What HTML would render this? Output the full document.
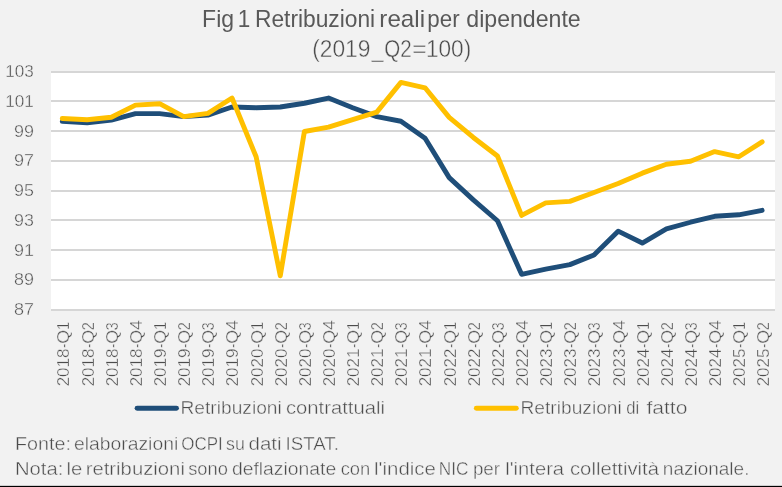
<!DOCTYPE html>
<html><head><meta charset="utf-8"><title>Fig 1</title>
<style>
html,body{margin:0;padding:0;background:#f2f2f2;}
svg{display:block;font-family:"Liberation Sans",sans-serif;will-change:transform;}
</style></head><body>
<svg width="782" height="487" viewBox="0 0 782 487">
<rect x="0" y="0" width="782" height="487" fill="#f2f2f2"/>
<rect x="51.0" y="71" width="724.0" height="240" fill="#ffffff"/>

<rect x="51.0" y="71" width="724.0" height="2" fill="#d6d6d6"/>
<rect x="51.0" y="100" width="724.0" height="2" fill="#d6d6d6"/>
<rect x="51.0" y="130" width="724.0" height="2" fill="#d6d6d6"/>
<rect x="51.0" y="160" width="724.0" height="2" fill="#d6d6d6"/>
<rect x="51.0" y="190" width="724.0" height="2" fill="#d6d6d6"/>
<rect x="51.0" y="219" width="724.0" height="2" fill="#d6d6d6"/>
<rect x="51.0" y="249" width="724.0" height="2" fill="#d6d6d6"/>
<rect x="51.0" y="279" width="724.0" height="2" fill="#d6d6d6"/>
<rect x="51.0" y="309" width="724.0" height="2" fill="#d6d6d6"/>
<text transform="translate(5.32,77.00) scale(0.9940,1)" font-size="17.2" fill="#4c4c4c" stroke="#f2f2f2" stroke-width="0.4">103</text>
<text transform="translate(5.31,106.75) scale(0.9972,1)" font-size="17.2" fill="#4c4c4c" stroke="#f2f2f2" stroke-width="0.4">101</text>
<text transform="translate(13.99,136.50) scale(1.0431,1)" font-size="17.2" fill="#4c4c4c" stroke="#f2f2f2" stroke-width="0.4">99</text>
<text transform="translate(13.99,166.25) scale(1.0482,1)" font-size="17.2" fill="#4c4c4c" stroke="#f2f2f2" stroke-width="0.4">97</text>
<text transform="translate(14.00,196.00) scale(1.0380,1)" font-size="17.2" fill="#4c4c4c" stroke="#f2f2f2" stroke-width="0.4">95</text>
<text transform="translate(14.00,225.75) scale(1.0380,1)" font-size="17.2" fill="#4c4c4c" stroke="#f2f2f2" stroke-width="0.4">93</text>
<text transform="translate(13.99,255.50) scale(1.0431,1)" font-size="17.2" fill="#4c4c4c" stroke="#f2f2f2" stroke-width="0.4">91</text>
<text transform="translate(13.99,285.25) scale(1.0431,1)" font-size="17.2" fill="#4c4c4c" stroke="#f2f2f2" stroke-width="0.4">89</text>
<text transform="translate(13.99,315.00) scale(1.0482,1)" font-size="17.2" fill="#4c4c4c" stroke="#f2f2f2" stroke-width="0.4">87</text>
<path d="M62.27,121.38 L87.20,122.72 L111.33,120.05 L135.47,113.65 L159.60,113.65 L183.73,116.62 L207.87,115.14 L232.00,106.96 L256.13,107.70 L280.27,106.96 L304.40,103.24 L328.53,98.03 L352.67,107.70 L376.80,116.62 L400.93,121.24 L425.07,138.19 L449.20,177.61 L473.33,199.92 L497.47,220.75 L521.60,274.30 L545.73,269.09 L569.87,264.63 L594.00,254.96 L618.13,231.16 L642.27,243.06 L666.40,228.93 L690.53,222.24 L714.67,216.29 L738.80,214.80 L762.13,210.34" fill="none" stroke="#1f4e79" stroke-width="4.9" stroke-linejoin="round" stroke-linecap="round"/>
<path d="M62.27,118.56 L87.20,119.75 L111.33,117.22 L135.47,105.17 L159.60,103.68 L183.73,116.62 L207.87,113.35 L232.00,98.03 L256.13,156.79 L280.27,275.79 L304.40,131.50 L328.53,127.04 L352.67,119.60 L376.80,112.16 L400.93,82.41 L425.07,87.77 L449.20,117.37 L473.33,137.45 L497.47,156.04 L521.60,215.40 L545.73,202.90 L569.87,201.41 L594.00,192.49 L618.13,183.56 L642.27,173.15 L666.40,164.23 L690.53,161.25 L714.67,151.58 L738.80,156.79 L762.13,141.91" fill="none" stroke="#ffc000" stroke-width="4.9" stroke-linejoin="round" stroke-linecap="round"/>
<g transform="translate(69.47,0) rotate(-90)" font-size="17.2" fill="#4c4c4c" stroke="#f2f2f2" stroke-width="0.4"><text transform="translate(-386.35,0) scale(0.9912,1)">2018</text><text transform="translate(-347.83,0) scale(0.6882,1)">-</text><text transform="translate(-343.69,0) scale(1.0270,1)">Q</text><text transform="translate(-329.87,0) scale(0.8287,1)">1</text></g>
<g transform="translate(93.60,0) rotate(-90)" font-size="17.2" fill="#4c4c4c" stroke="#f2f2f2" stroke-width="0.4"><text transform="translate(-386.35,0) scale(0.9912,1)">2018</text><text transform="translate(-347.83,0) scale(0.6882,1)">-</text><text transform="translate(-343.69,0) scale(1.0270,1)">Q</text><text transform="translate(-330.33,0) scale(0.8433,1)">2</text></g>
<g transform="translate(117.73,0) rotate(-90)" font-size="17.2" fill="#4c4c4c" stroke="#f2f2f2" stroke-width="0.4"><text transform="translate(-386.35,0) scale(0.9912,1)">2018</text><text transform="translate(-347.83,0) scale(0.6882,1)">-</text><text transform="translate(-343.69,0) scale(1.0270,1)">Q</text><text transform="translate(-330.32,0) scale(0.8262,1)">3</text></g>
<g transform="translate(141.87,0) rotate(-90)" font-size="17.2" fill="#4c4c4c" stroke="#f2f2f2" stroke-width="0.4"><text transform="translate(-386.35,0) scale(0.9912,1)">2018</text><text transform="translate(-347.83,0) scale(0.6882,1)">-</text><text transform="translate(-343.69,0) scale(1.0270,1)">Q</text><text transform="translate(-330.11,0) scale(1.0419,1)">4</text></g>
<g transform="translate(166.00,0) rotate(-90)" font-size="17.2" fill="#4c4c4c" stroke="#f2f2f2" stroke-width="0.4"><text transform="translate(-386.35,0) scale(0.9912,1)">2019</text><text transform="translate(-347.83,0) scale(0.6882,1)">-</text><text transform="translate(-343.69,0) scale(1.0270,1)">Q</text><text transform="translate(-329.87,0) scale(0.8287,1)">1</text></g>
<g transform="translate(190.13,0) rotate(-90)" font-size="17.2" fill="#4c4c4c" stroke="#f2f2f2" stroke-width="0.4"><text transform="translate(-386.35,0) scale(0.9912,1)">2019</text><text transform="translate(-347.83,0) scale(0.6882,1)">-</text><text transform="translate(-343.69,0) scale(1.0270,1)">Q</text><text transform="translate(-330.33,0) scale(0.8433,1)">2</text></g>
<g transform="translate(214.27,0) rotate(-90)" font-size="17.2" fill="#4c4c4c" stroke="#f2f2f2" stroke-width="0.4"><text transform="translate(-386.35,0) scale(0.9912,1)">2019</text><text transform="translate(-347.83,0) scale(0.6882,1)">-</text><text transform="translate(-343.69,0) scale(1.0270,1)">Q</text><text transform="translate(-330.32,0) scale(0.8262,1)">3</text></g>
<g transform="translate(238.40,0) rotate(-90)" font-size="17.2" fill="#4c4c4c" stroke="#f2f2f2" stroke-width="0.4"><text transform="translate(-386.35,0) scale(0.9912,1)">2019</text><text transform="translate(-347.83,0) scale(0.6882,1)">-</text><text transform="translate(-343.69,0) scale(1.0270,1)">Q</text><text transform="translate(-330.11,0) scale(1.0419,1)">4</text></g>
<g transform="translate(262.53,0) rotate(-90)" font-size="17.2" fill="#4c4c4c" stroke="#f2f2f2" stroke-width="0.4"><text transform="translate(-386.35,0) scale(0.9912,1)">2020</text><text transform="translate(-347.83,0) scale(0.6882,1)">-</text><text transform="translate(-343.69,0) scale(1.0270,1)">Q</text><text transform="translate(-329.87,0) scale(0.8287,1)">1</text></g>
<g transform="translate(286.67,0) rotate(-90)" font-size="17.2" fill="#4c4c4c" stroke="#f2f2f2" stroke-width="0.4"><text transform="translate(-386.35,0) scale(0.9912,1)">2020</text><text transform="translate(-347.83,0) scale(0.6882,1)">-</text><text transform="translate(-343.69,0) scale(1.0270,1)">Q</text><text transform="translate(-330.33,0) scale(0.8433,1)">2</text></g>
<g transform="translate(310.80,0) rotate(-90)" font-size="17.2" fill="#4c4c4c" stroke="#f2f2f2" stroke-width="0.4"><text transform="translate(-386.35,0) scale(0.9912,1)">2020</text><text transform="translate(-347.83,0) scale(0.6882,1)">-</text><text transform="translate(-343.69,0) scale(1.0270,1)">Q</text><text transform="translate(-330.32,0) scale(0.8262,1)">3</text></g>
<g transform="translate(334.93,0) rotate(-90)" font-size="17.2" fill="#4c4c4c" stroke="#f2f2f2" stroke-width="0.4"><text transform="translate(-386.35,0) scale(0.9912,1)">2020</text><text transform="translate(-347.83,0) scale(0.6882,1)">-</text><text transform="translate(-343.69,0) scale(1.0270,1)">Q</text><text transform="translate(-330.11,0) scale(1.0419,1)">4</text></g>
<g transform="translate(359.07,0) rotate(-90)" font-size="17.2" fill="#4c4c4c" stroke="#f2f2f2" stroke-width="0.4"><text transform="translate(-386.35,0) scale(0.9912,1)">2021</text><text transform="translate(-347.83,0) scale(0.6882,1)">-</text><text transform="translate(-343.69,0) scale(1.0270,1)">Q</text><text transform="translate(-329.87,0) scale(0.8287,1)">1</text></g>
<g transform="translate(383.20,0) rotate(-90)" font-size="17.2" fill="#4c4c4c" stroke="#f2f2f2" stroke-width="0.4"><text transform="translate(-386.35,0) scale(0.9912,1)">2021</text><text transform="translate(-347.83,0) scale(0.6882,1)">-</text><text transform="translate(-343.69,0) scale(1.0270,1)">Q</text><text transform="translate(-330.33,0) scale(0.8433,1)">2</text></g>
<g transform="translate(407.33,0) rotate(-90)" font-size="17.2" fill="#4c4c4c" stroke="#f2f2f2" stroke-width="0.4"><text transform="translate(-386.35,0) scale(0.9912,1)">2021</text><text transform="translate(-347.83,0) scale(0.6882,1)">-</text><text transform="translate(-343.69,0) scale(1.0270,1)">Q</text><text transform="translate(-330.32,0) scale(0.8262,1)">3</text></g>
<g transform="translate(431.47,0) rotate(-90)" font-size="17.2" fill="#4c4c4c" stroke="#f2f2f2" stroke-width="0.4"><text transform="translate(-386.35,0) scale(0.9912,1)">2021</text><text transform="translate(-347.83,0) scale(0.6882,1)">-</text><text transform="translate(-343.69,0) scale(1.0270,1)">Q</text><text transform="translate(-330.11,0) scale(1.0419,1)">4</text></g>
<g transform="translate(455.60,0) rotate(-90)" font-size="17.2" fill="#4c4c4c" stroke="#f2f2f2" stroke-width="0.4"><text transform="translate(-386.35,0) scale(0.9912,1)">2022</text><text transform="translate(-347.83,0) scale(0.6882,1)">-</text><text transform="translate(-343.69,0) scale(1.0270,1)">Q</text><text transform="translate(-329.87,0) scale(0.8287,1)">1</text></g>
<g transform="translate(479.73,0) rotate(-90)" font-size="17.2" fill="#4c4c4c" stroke="#f2f2f2" stroke-width="0.4"><text transform="translate(-386.35,0) scale(0.9912,1)">2022</text><text transform="translate(-347.83,0) scale(0.6882,1)">-</text><text transform="translate(-343.69,0) scale(1.0270,1)">Q</text><text transform="translate(-330.33,0) scale(0.8433,1)">2</text></g>
<g transform="translate(503.87,0) rotate(-90)" font-size="17.2" fill="#4c4c4c" stroke="#f2f2f2" stroke-width="0.4"><text transform="translate(-386.35,0) scale(0.9912,1)">2022</text><text transform="translate(-347.83,0) scale(0.6882,1)">-</text><text transform="translate(-343.69,0) scale(1.0270,1)">Q</text><text transform="translate(-330.32,0) scale(0.8262,1)">3</text></g>
<g transform="translate(528.00,0) rotate(-90)" font-size="17.2" fill="#4c4c4c" stroke="#f2f2f2" stroke-width="0.4"><text transform="translate(-386.35,0) scale(0.9912,1)">2022</text><text transform="translate(-347.83,0) scale(0.6882,1)">-</text><text transform="translate(-343.69,0) scale(1.0270,1)">Q</text><text transform="translate(-330.11,0) scale(1.0419,1)">4</text></g>
<g transform="translate(552.13,0) rotate(-90)" font-size="17.2" fill="#4c4c4c" stroke="#f2f2f2" stroke-width="0.4"><text transform="translate(-386.35,0) scale(0.9912,1)">2023</text><text transform="translate(-347.83,0) scale(0.6882,1)">-</text><text transform="translate(-343.69,0) scale(1.0270,1)">Q</text><text transform="translate(-329.87,0) scale(0.8287,1)">1</text></g>
<g transform="translate(576.27,0) rotate(-90)" font-size="17.2" fill="#4c4c4c" stroke="#f2f2f2" stroke-width="0.4"><text transform="translate(-386.35,0) scale(0.9912,1)">2023</text><text transform="translate(-347.83,0) scale(0.6882,1)">-</text><text transform="translate(-343.69,0) scale(1.0270,1)">Q</text><text transform="translate(-330.33,0) scale(0.8433,1)">2</text></g>
<g transform="translate(600.40,0) rotate(-90)" font-size="17.2" fill="#4c4c4c" stroke="#f2f2f2" stroke-width="0.4"><text transform="translate(-386.35,0) scale(0.9912,1)">2023</text><text transform="translate(-347.83,0) scale(0.6882,1)">-</text><text transform="translate(-343.69,0) scale(1.0270,1)">Q</text><text transform="translate(-330.32,0) scale(0.8262,1)">3</text></g>
<g transform="translate(624.53,0) rotate(-90)" font-size="17.2" fill="#4c4c4c" stroke="#f2f2f2" stroke-width="0.4"><text transform="translate(-386.35,0) scale(0.9912,1)">2023</text><text transform="translate(-347.83,0) scale(0.6882,1)">-</text><text transform="translate(-343.69,0) scale(1.0270,1)">Q</text><text transform="translate(-330.11,0) scale(1.0419,1)">4</text></g>
<g transform="translate(648.67,0) rotate(-90)" font-size="17.2" fill="#4c4c4c" stroke="#f2f2f2" stroke-width="0.4"><text transform="translate(-386.35,0) scale(0.9912,1)">2024</text><text transform="translate(-347.83,0) scale(0.6882,1)">-</text><text transform="translate(-343.69,0) scale(1.0270,1)">Q</text><text transform="translate(-329.87,0) scale(0.8287,1)">1</text></g>
<g transform="translate(672.80,0) rotate(-90)" font-size="17.2" fill="#4c4c4c" stroke="#f2f2f2" stroke-width="0.4"><text transform="translate(-386.35,0) scale(0.9912,1)">2024</text><text transform="translate(-347.83,0) scale(0.6882,1)">-</text><text transform="translate(-343.69,0) scale(1.0270,1)">Q</text><text transform="translate(-330.33,0) scale(0.8433,1)">2</text></g>
<g transform="translate(696.93,0) rotate(-90)" font-size="17.2" fill="#4c4c4c" stroke="#f2f2f2" stroke-width="0.4"><text transform="translate(-386.35,0) scale(0.9912,1)">2024</text><text transform="translate(-347.83,0) scale(0.6882,1)">-</text><text transform="translate(-343.69,0) scale(1.0270,1)">Q</text><text transform="translate(-330.32,0) scale(0.8262,1)">3</text></g>
<g transform="translate(721.07,0) rotate(-90)" font-size="17.2" fill="#4c4c4c" stroke="#f2f2f2" stroke-width="0.4"><text transform="translate(-386.35,0) scale(0.9912,1)">2024</text><text transform="translate(-347.83,0) scale(0.6882,1)">-</text><text transform="translate(-343.69,0) scale(1.0270,1)">Q</text><text transform="translate(-330.11,0) scale(1.0419,1)">4</text></g>
<g transform="translate(745.20,0) rotate(-90)" font-size="17.2" fill="#4c4c4c" stroke="#f2f2f2" stroke-width="0.4"><text transform="translate(-386.35,0) scale(0.9912,1)">2025</text><text transform="translate(-347.83,0) scale(0.6882,1)">-</text><text transform="translate(-343.69,0) scale(1.0270,1)">Q</text><text transform="translate(-329.87,0) scale(0.8287,1)">1</text></g>
<g transform="translate(769.33,0) rotate(-90)" font-size="17.2" fill="#4c4c4c" stroke="#f2f2f2" stroke-width="0.4"><text transform="translate(-386.35,0) scale(0.9912,1)">2025</text><text transform="translate(-347.83,0) scale(0.6882,1)">-</text><text transform="translate(-343.69,0) scale(1.0270,1)">Q</text><text transform="translate(-330.33,0) scale(0.8433,1)">2</text></g>
<text transform="translate(202.11,26.85) scale(0.9919,1)" font-size="23.2" fill="#595959">Fig</text>
<text transform="translate(237.71,26.85) scale(0.9711,1)" font-size="23.2" fill="#595959">1</text>
<text transform="translate(254.98,26.85) scale(0.9813,1)" font-size="23.2" fill="#595959">Retribuzioni</text>
<text transform="translate(379.33,26.85) scale(1.0433,1)" font-size="23.2" fill="#595959">reali</text>
<text transform="translate(427.35,26.85) scale(0.9635,1)" font-size="23.2" fill="#595959">per</text>
<text transform="translate(466.27,26.85) scale(0.9976,1)" font-size="23.2" fill="#595959">dipendente</text>
<text transform="translate(312.13,57.40) scale(0.9835,1)" font-size="23.2" fill="#4c4c4c" stroke="#f2f2f2" stroke-width="0.4">(2019</text>
<text transform="translate(371.82,57.40) scale(0.9063,1)" font-size="23.2" fill="#4c4c4c" stroke="#f2f2f2" stroke-width="0.4">_</text>
<text transform="translate(384.17,57.40) scale(0.8864,1)" font-size="23.2" fill="#4c4c4c" stroke="#f2f2f2" stroke-width="0.4">Q2</text>
<text transform="translate(412.27,57.40) scale(1.0576,1)" font-size="23.2" fill="#4c4c4c" stroke="#f2f2f2" stroke-width="0.4">=</text>
<text transform="translate(425.90,57.40) scale(0.9776,1)" font-size="23.2" fill="#4c4c4c" stroke="#f2f2f2" stroke-width="0.4">100)</text>
<line x1="137.1" x2="176.5" y1="408.3" y2="408.3" stroke="#1f4e79" stroke-width="4.9" stroke-linecap="round"/>
<text transform="translate(180.47,413.70) scale(1.0776,1)" font-size="17.8" fill="#4c4c4c" stroke="#f2f2f2" stroke-width="0.4">Retribuzioni</text>
<text transform="translate(285.89,413.70) scale(1.1389,1)" font-size="17.8" fill="#4c4c4c" stroke="#f2f2f2" stroke-width="0.4">contrattuali</text>
<line x1="476.3" x2="516.3" y1="408.3" y2="408.3" stroke="#ffc000" stroke-width="4.9" stroke-linecap="round"/>
<text transform="translate(520.47,413.70) scale(1.0776,1)" font-size="17.8" fill="#4c4c4c" stroke="#f2f2f2" stroke-width="0.4">Retribuzioni</text>
<text transform="translate(626.33,413.70) scale(0.9391,1)" font-size="17.8" fill="#4c4c4c" stroke="#f2f2f2" stroke-width="0.4">di</text>
<text transform="translate(646.38,413.70) scale(1.1860,1)" font-size="17.8" fill="#4c4c4c" stroke="#f2f2f2" stroke-width="0.4">fatto</text>
<text transform="translate(15.02,449.80) scale(1.1088,1)" font-size="17.8" fill="#4c4c4c" stroke="#f2f2f2" stroke-width="0.4">Fonte:</text>
<text transform="translate(73.93,449.80) scale(1.0875,1)" font-size="17.8" fill="#4c4c4c" stroke="#f2f2f2" stroke-width="0.4">elaborazioni</text>
<text transform="translate(181.34,449.80) scale(0.9530,1)" font-size="17.8" fill="#4c4c4c" stroke="#f2f2f2" stroke-width="0.4">OCPI</text>
<text transform="translate(226.07,449.80) scale(1.0007,1)" font-size="17.8" fill="#4c4c4c" stroke="#f2f2f2" stroke-width="0.4">su</text>
<text transform="translate(248.48,449.80) scale(1.1572,1)" font-size="17.8" fill="#4c4c4c" stroke="#f2f2f2" stroke-width="0.4">dati</text>
<text transform="translate(285.52,449.80) scale(1.0500,1)" font-size="17.8" fill="#4c4c4c" stroke="#f2f2f2" stroke-width="0.4">ISTAT.</text>
<text transform="translate(14.98,475.30) scale(1.1363,1)" font-size="17.8" fill="#4c4c4c" stroke="#f2f2f2" stroke-width="0.4">Nota:</text>
<text transform="translate(66.48,475.30) scale(1.1405,1)" font-size="17.8" fill="#4c4c4c" stroke="#f2f2f2" stroke-width="0.4">le</text>
<text transform="translate(85.68,475.30) scale(1.1401,1)" font-size="17.8" fill="#4c4c4c" stroke="#f2f2f2" stroke-width="0.4">retribuzioni</text>
<text transform="translate(188.15,475.30) scale(1.0297,1)" font-size="17.8" fill="#4c4c4c" stroke="#f2f2f2" stroke-width="0.4">sono</text>
<text transform="translate(231.93,475.30) scale(1.0865,1)" font-size="17.8" fill="#4c4c4c" stroke="#f2f2f2" stroke-width="0.4">deflazionate</text>
<text transform="translate(340.67,475.30) scale(1.0303,1)" font-size="17.8" fill="#4c4c4c" stroke="#f2f2f2" stroke-width="0.4">con</text>
<text transform="translate(374.07,475.30) scale(1.1486,1)" font-size="17.8" fill="#4c4c4c" stroke="#f2f2f2" stroke-width="0.4">l'indice</text>
<text transform="translate(438.72,475.30) scale(0.9661,1)" font-size="17.8" fill="#4c4c4c" stroke="#f2f2f2" stroke-width="0.4">NIC</text>
<text transform="translate(472.88,475.30) scale(1.0575,1)" font-size="17.8" fill="#4c4c4c" stroke="#f2f2f2" stroke-width="0.4">per</text>
<text transform="translate(505.29,475.30) scale(1.1335,1)" font-size="17.8" fill="#4c4c4c" stroke="#f2f2f2" stroke-width="0.4">l'intera</text>
<text transform="translate(569.99,475.30) scale(1.1391,1)" font-size="17.8" fill="#4c4c4c" stroke="#f2f2f2" stroke-width="0.4">collettività</text>
<text transform="translate(662.87,475.30) scale(1.0674,1)" font-size="17.8" fill="#4c4c4c" stroke="#f2f2f2" stroke-width="0.4">nazionale.</text>
<rect x="0" y="485.85" width="782" height="1.15" fill="#000"/>
</svg></body></html>
